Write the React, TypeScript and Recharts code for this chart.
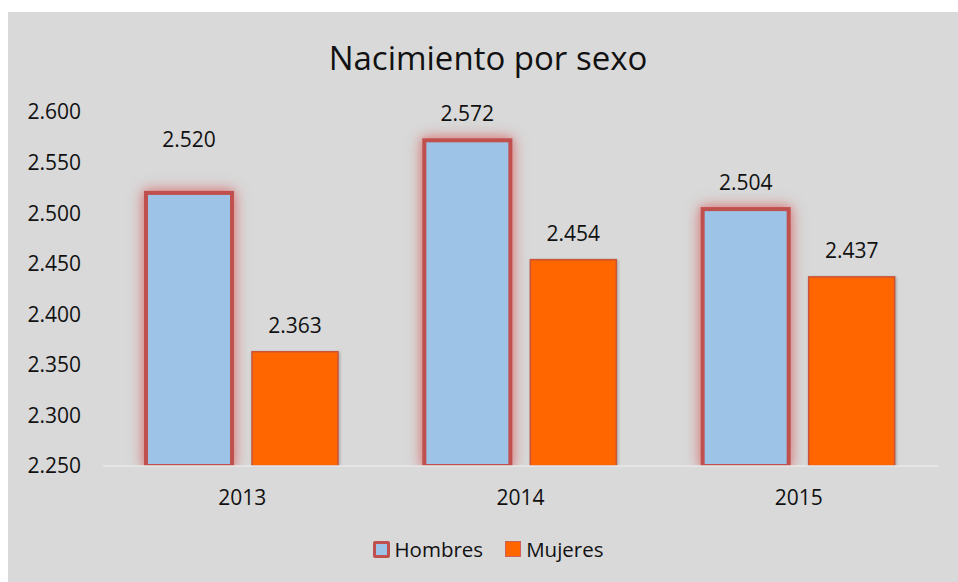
import { BarChart, Bar, XAxis, YAxis, Legend, LabelList } from "recharts";

const years = ["2013", "2014", "2015"];
const hombres = [2520, 2572, 2504];
const mujeres = [2363, 2454, 2437];
const yTicks = [2250, 2300, 2350, 2400, 2450, 2500, 2550, 2600];

const data = years.map((year, i) => ({ year, hombres: hombres[i], mujeres: mujeres[i] }));

const FONT = "'Open Sans', 'DejaVu Sans', sans-serif";
const TEXT = "#111";

// 2.520 style: dot as thousands separator
const fmt = (v: number) => `${Math.floor(v / 1000)}.${String(v % 1000).padStart(3, "0")}`;

const HombresShape = (props: any) => {
  const { x, y, width, height } = props;
  return (
    <rect
      x={x}
      y={y}
      width={width}
      height={height}
      fill="#9dc3e6"
      stroke="#c0504d"
      strokeWidth={4}
      style={{ filter: "drop-shadow(0 0 7px rgba(215,120,120,0.85)) drop-shadow(0 0 3px rgba(215,120,120,0.5))" }}
    />
  );
};

const MujeresShape = (props: any) => {
  const { x, y, width, height } = props;
  return (
    <rect
      x={x}
      y={y}
      width={width}
      height={height}
      fill="#ff6600"
      stroke="#c8553a"
      strokeWidth={1.5}
      style={{ filter: "drop-shadow(1px 1px 1.5px rgba(0,0,0,0.25))" }}
    />
  );
};

// the 2013 label for Hombres sits higher in the original
const labelFor = (extra: number[]) => (props: any) => {
  const { x, y, width, value, index } = props;
  return (
    <text
      x={x + width / 2}
      y={y - 19 - (extra[index] || 0)}
      textAnchor="middle"
      fill={TEXT}
      fontSize={21}
      fontFamily={FONT}
    >
      {fmt(value)}
    </text>
  );
};

const LegendContent = () => (
  <div
    style={{
      display: "flex",
      justifyContent: "center",
      alignItems: "center",
      height: 24,
      fontFamily: FONT,
      fontSize: 20.5,
      color: TEXT,
      paddingLeft: 10,
    }}
  >
    <span style={{ display: "flex", alignItems: "center", marginRight: 22 }}>
      <span
        style={{
          width: 11,
          height: 11,
          background: "#9dc3e6",
          border: "3px solid #c0504d",
          borderRadius: 2,
          marginRight: 5,
        }}
      />
      Hombres
    </span>
    <span style={{ display: "flex", alignItems: "center" }}>
      <span
        style={{
          width: 14,
          height: 14,
          background: "#ff6600",
          border: "1px solid #d0605a",
          marginRight: 5,
        }}
      />
      Mujeres
    </span>
  </div>
);

export default function App() {
  return (
    <>
      <style>{`body{margin:0;overflow:hidden}`}</style>
      <div
        style={{
          position: "absolute",
          left: 8,
          top: 12,
          width: 950,
          height: 570,
          background: "#d9d9d9",
        }}
      >
        <div
          style={{
            position: "absolute",
            top: 26,
            left: 0,
            width: 960,
            textAlign: "center",
            fontFamily: FONT,
            fontSize: 33,
            lineHeight: "40px",
            color: TEXT,
          }}
        >
          Nacimiento por sexo
        </div>
        <BarChart
          width={950}
          height={570}
          data={data}
          margin={{ top: 100, right: 20, left: 0, bottom: 62 }}
          barSize={86}
          barGap={20}
        >
          <XAxis
            dataKey="year"
            height={30}
            tickSize={0}
            tickMargin={24}
            axisLine={{ stroke: "#e9e9e9", strokeWidth: 1.5 }}
            tick={{ fill: TEXT, fontSize: 21, fontFamily: FONT }}
          />
          <YAxis
            width={95}
            domain={[2250, 2600]}
            ticks={yTicks}
            allowDataOverflow
            axisLine={false}
            tickLine={false}
            tickSize={0}
            tickMargin={22}
            tickFormatter={fmt}
            tick={{ fill: TEXT, fontSize: 21, fontFamily: FONT }}
          />
          <Legend
            verticalAlign="bottom"
            content={<LegendContent />}
            wrapperStyle={{ top: 525, bottom: "auto", left: 0, width: 950 }}
          />
          <Bar dataKey="hombres" name="Hombres" shape={<HombresShape />} isAnimationActive={false}>
            <LabelList dataKey="hombres" content={labelFor([27, 0, 0])} />
          </Bar>
          <Bar dataKey="mujeres" name="Mujeres" shape={<MujeresShape />} isAnimationActive={false}>
            <LabelList dataKey="mujeres" content={labelFor([0, 0, 0])} />
          </Bar>
        </BarChart>
      </div>
    </>
  );
}
